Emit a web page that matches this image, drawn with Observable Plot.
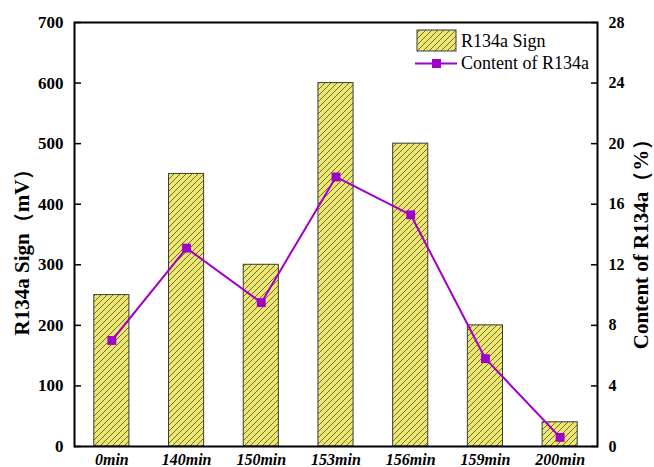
<!DOCTYPE html>
<html>
<head>
<meta charset="utf-8">
<script src="https://cdn.jsdelivr.net/npm/d3@7"></script>
<script src="https://cdn.jsdelivr.net/npm/@observablehq/plot@0.6"></script>
<style>
  body { margin: 0; background: #fff; }
  #chart { width: 654px; height: 467px; }
</style>
</head>
<body>
<div id="chart"></div>
<script>
// Sampling times, R134a sensor signal (mV) and R134a content (%)
const times = ["0min", "140min", "150min", "153min", "156min", "159min", "200min"];
const signal = [250, 450, 300, 600, 500, 200, 40];
const content = [7.0, 13.1, 9.5, 17.8, 15.3, 5.8, 0.6];

// Tick values for the two vertical axes
const signTicks = [0, 100, 200, 300, 400, 500, 600, 700];
const contentTicks = [0, 4, 8, 12, 16, 20, 24, 28];

// The right axis (0–28 %) shares the left axis (0–700 mV) range
const ratio = 700 / 28;

const rows = times.map((t, i) => ({time: t, signal: signal[i], content: content[i]}));

const serif = "'Liberation Serif', 'Times New Roman', serif";
const purple = "#a000c8";
const yellow = "#efe86e";
const blank = () => "";

const chart = Plot.plot({
  width: 654,
  height: 467,
  marginLeft: 74,
  marginRight: 57,
  marginTop: 22,
  marginBottom: 21,
  style: {fontFamily: serif, background: "#fff", overflow: "visible", color: "#000"},
  x: {domain: times, type: "band", paddingInner: 0.53, paddingOuter: 0.265, round: false},
  y: {domain: [0, 700]},
  marks: [
    Plot.barY(rows, {x: "time", y: "signal", fill: "url(#hatch)", stroke: "#3a3a3a", strokeWidth: 1}),
    Plot.line(rows, {x: "time", y: d => d.content * ratio, stroke: purple, strokeWidth: 2}),
    Plot.dot(rows, {x: "time", y: d => d.content * ratio, symbol: "square", r: 5, fill: purple, stroke: "none"}),
    Plot.axisX({tickSize: 0, tickPadding: 7, fontSize: 16, fontWeight: "bold", fontStyle: "italic", label: null}),
    // left axis: labels outside, ticks pointing into the frame
    Plot.axisY(signTicks, {anchor: "left", tickSize: 0, tickPadding: 11, fontSize: 17, fontWeight: "bold", label: null}),
    Plot.axisY(signTicks, {anchor: "left", tickSize: 7, dx: 7, tickFormat: blank, label: null, strokeWidth: 1.5}),
    // right axis in % of R134a, ticks also pointing inward
    Plot.axisY(contentTicks.map(v => v * ratio), {anchor: "right", tickSize: 0, tickPadding: 11, fontSize: 16, fontWeight: "bold", label: null, tickFormat: v => v / ratio}),
    Plot.axisY(contentTicks.map(v => v * ratio), {anchor: "right", tickSize: -7, tickFormat: blank, label: null, strokeWidth: 1.5}),
    Plot.frame({stroke: "#000", strokeWidth: 2})
  ]
});

const svg = d3.select(chart);

// Hatched fill for the signal bars
const pattern = svg.insert("defs", ":first-child")
  .append("pattern")
  .attr("id", "hatch")
  .attr("patternUnits", "userSpaceOnUse")
  .attr("width", 6)
  .attr("height", 6);
pattern.append("rect").attr("width", 6).attr("height", 6).attr("fill", yellow);
pattern.append("path")
  .attr("d", "M-1,1 l2,-2 M0,6 l6,-6 M5,7 l2,-2")
  .attr("stroke", "#4a4a3a")
  .attr("stroke-width", 0.8);

// Axis titles
svg.append("text")
  .attr("transform", "translate(22,247) rotate(-90)")
  .attr("text-anchor", "middle")
  .attr("dominant-baseline", "central")
  .attr("font-family", serif)
  .attr("font-weight", "bold")
  .attr("font-size", 21)
  .text("R134a Sign（mV）");

svg.append("text")
  .attr("transform", "translate(641,239) rotate(-90)")
  .attr("text-anchor", "middle")
  .attr("dominant-baseline", "central")
  .attr("font-family", serif)
  .attr("font-weight", "bold")
  .attr("font-size", 21)
  .text("Content of R134a（%）");

// Legend
const legend = svg.append("g")
  .attr("font-family", serif)
  .attr("font-size", 18)
  .attr("text-anchor", "start");
legend.append("rect")
  .attr("x", 417).attr("y", 30).attr("width", 39).attr("height", 21)
  .attr("fill", "url(#hatch)").attr("stroke", "#3a3a3a");
legend.append("text").attr("x", 461).attr("y", 47).text("R134a Sign");
legend.append("line")
  .attr("x1", 415).attr("x2", 457).attr("y1", 63.5).attr("y2", 63.5)
  .attr("stroke", purple).attr("stroke-width", 2);
legend.append("rect")
  .attr("x", 432).attr("y", 59).attr("width", 9).attr("height", 9)
  .attr("fill", purple);
legend.append("text").attr("x", 461).attr("y", 68.5).text("Content of R134a");

document.getElementById("chart").append(chart);
</script>
</body>
</html>
